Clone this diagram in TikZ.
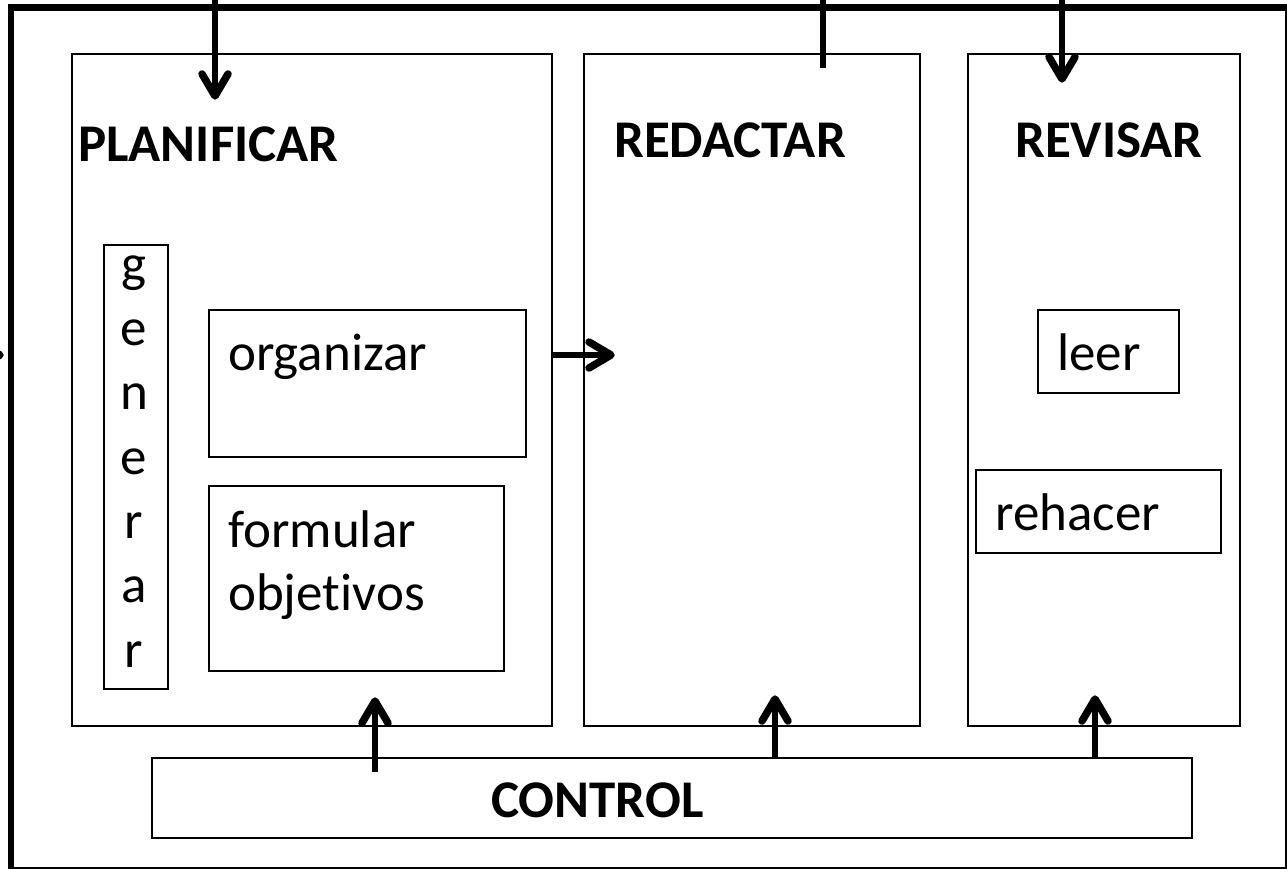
\documentclass[tikz,border=0pt]{standalone}
\usepackage{fontspec}
\setmainfont[Ligatures=NoCommon]{Carlito}
\usetikzlibrary{decorations.markings}
\tikzset{
  box/.style={draw, line width=2.2pt, inner sep=0pt, anchor=north west},
  frame/.style={draw, line width=6.5pt},
  head/.style={inner sep=0pt, anchor=base west, font=\fontsize{53}{63}\selectfont\bfseries},
  lab/.style={inner sep=0pt, anchor=base west, font=\fontsize{53}{63}\selectfont},
  plain/.style={line width=6pt},
  flow/.style={plain, postaction={decorate, decoration={markings,
    mark=at position 1 with {\draw[line width=7.5pt, line cap=round, line join=round]
      (-22pt,13pt) -- (0pt,0pt) -- (-22pt,-13pt);}}}},
}
\begin{document}
\begin{tikzpicture}[x=1pt,y=-1pt]
\useasboundingbox (0,0) rectangle (1287,869);
% outer frame
\node[frame, minimum width=1277, minimum height=862, inner sep=0pt, anchor=north west] (outer) at (7.5,4.5) {};
% main boxes
\node[box, minimum width=480, minimum height=672] (plan) at (71,53) {};
\node[box, minimum width=336, minimum height=672] (red) at (583,53) {};
\node[box, minimum width=272, minimum height=672] (rev) at (967,53) {};
\node[box, minimum width=64, minimum height=444] (gen) at (103,244) {};
\node[box, minimum width=317, minimum height=147] (org) at (208,309) {};
\node[box, minimum width=295, minimum height=185] (form) at (208,485) {};
\node[box, minimum width=141, minimum height=83] (leer) at (1037,309) {};
\node[box, minimum width=245, minimum height=83] (reh) at (975,469) {};
\node[box, minimum width=1040, minimum height=80] (ctrl) at (151,757) {};
% headings
\node[head] (tplan) at (78,162) {PLANIFICAR};
\node[head] (tred) at (614,158) {REDACTAR};
\node[head] (trev) at (1015,158) {REVISAR};
\node[head] (tctrl) at (491,817) {CONTROL};
% labels
\node[lab] (torg) at (228,370) {organizar};
\node[lab, align=left] (tform) at (228,610) {formular\\objetivos};
\node[lab] (tleer) at (1057,370) {leer};
\node[lab] (treh) at (995,530) {rehacer};
\node[inner sep=0pt, anchor=base, align=center, font=\fontsize{53}{64.3}\selectfont] (tgen) at (134,667) {g\\e\\n\\e\\r\\a\\r};
% connector end points
\coordinate (t1) at (215,-5);
\coordinate (t1e) at (215,96);
\coordinate (t2) at (823,-5);
\coordinate (t2e) at (823,68);
\coordinate (t3) at (1062,-5);
\coordinate (t3e) at (1062,79);
\coordinate (o1) at (551,355);
\coordinate (o1e) at (611,355);
\coordinate (c1) at (375,772);
\coordinate (c1e) at (375,701);
\coordinate (c2) at (775,757);
\coordinate (c2e) at (775,699);
\coordinate (c3) at (1095,757);
\coordinate (c3e) at (1095,699);
\coordinate (l1) at (-60,355);
\coordinate (l1e) at (0,355);
% connectors
\draw[flow] (t1) -- (t1e);
\draw[plain] (t2) -- (t2e);
\draw[flow] (t3) -- (t3e);
\draw[flow] (o1) -- (o1e);
\draw[flow] (c1) -- (c1e);
\draw[flow] (c2) -- (c2e);
\draw[flow] (c3) -- (c3e);
\draw[flow] (l1) -- (l1e);
\end{tikzpicture}
\end{document}
